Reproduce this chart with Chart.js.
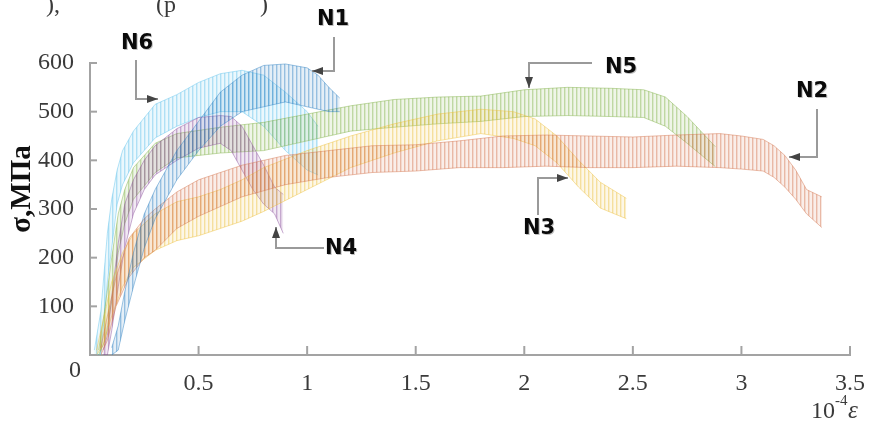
<!DOCTYPE html>
<html>
<head>
<meta charset="utf-8">
<script src="https://cdn.jsdelivr.net/npm/chart.js@4.4.1/dist/chart.umd.min.js"></script>
<style>
  html, body { margin: 0; padding: 0; background: #fff; }
  #wrap { width: 871px; height: 421px; }
</style>
</head>
<body>
<div id="wrap"><canvas id="c" width="871" height="421"></canvas></div>
<script>
/* ── data: strain (10^-4) and serration envelopes (MPa) ── */
const xTicks = [0, 0.5, 1, 1.5, 2, 2.5, 3, 3.5];
const yTicks = [0, 100, 200, 300, 400, 500, 600];

const n1X  = [0.1, 0.13, 0.16, 0.2, 0.25, 0.3, 0.35, 0.4, 0.5, 0.6, 0.7, 0.8, 0.9, 1.0, 1.05, 1.1, 1.15];
const n1Hi = [15, 60, 130, 210, 290, 340, 380, 420, 480, 540, 575, 595, 598, 590, 575, 550, 528];
const n1Lo = [0, 10, 70, 140, 220, 280, 320, 360, 420, 470, 500, 510, 520, 510, 505, 500, 500];

const n2X  = [0.05, 0.08, 0.12, 0.18, 0.25, 0.3, 0.4, 0.5, 0.7, 0.9, 1.1, 1.3, 1.5, 1.7, 1.9, 2.1, 2.3, 2.5, 2.7, 2.9, 3.0, 3.1, 3.15, 3.2, 3.25, 3.3, 3.37];
const n2Hi = [15, 80, 160, 240, 280, 300, 335, 360, 390, 410, 420, 430, 432, 440, 450, 452, 450, 448, 452, 455, 450, 443, 430, 410, 380, 340, 325];
const n2Lo = [0, 30, 100, 160, 200, 215, 260, 285, 325, 350, 365, 375, 378, 385, 385, 388, 385, 385, 388, 385, 382, 378, 365, 345, 320, 290, 262];

const n3X  = [0.03, 0.06, 0.1, 0.15, 0.2, 0.3, 0.4, 0.5, 0.6, 0.7, 0.8, 1.0, 1.2, 1.4, 1.6, 1.8, 1.95, 2.05, 2.15, 2.25, 2.35, 2.47];
const n3Hi = [10, 70, 150, 210, 250, 290, 315, 325, 340, 360, 385, 420, 450, 475, 495, 505, 500, 485, 450, 400, 355, 322];
const n3Lo = [0, 20, 80, 140, 180, 215, 235, 245, 260, 275, 295, 340, 385, 415, 440, 455, 445, 430, 395, 345, 302, 280];

const n4X  = [0.06, 0.08, 0.1, 0.13, 0.16, 0.2, 0.25, 0.3, 0.4, 0.5, 0.6, 0.65, 0.7, 0.75, 0.8, 0.85, 0.89];
const n4Hi = [10, 40, 120, 230, 310, 360, 400, 430, 465, 488, 492, 490, 470, 430, 390, 345, 330];
const n4Lo = [0, 0, 50, 140, 220, 290, 340, 370, 400, 425, 435, 420, 380, 340, 310, 290, 250];

const n5X  = [0.04, 0.07, 0.1, 0.13, 0.16, 0.2, 0.3, 0.4, 0.6, 0.8, 1.0, 1.2, 1.4, 1.6, 1.8, 2.0, 2.2, 2.4, 2.55, 2.65, 2.75, 2.88];
const n5Hi = [10, 100, 200, 290, 340, 385, 435, 455, 468, 478, 495, 512, 525, 530, 532, 545, 550, 548, 545, 530, 490, 428];
const n5Lo = [0, 30, 110, 210, 270, 320, 375, 405, 415, 420, 440, 460, 468, 475, 480, 490, 492, 490, 488, 470, 435, 387];

const n6X  = [0.02, 0.05, 0.08, 0.1, 0.125, 0.15, 0.2, 0.3, 0.4, 0.5, 0.6, 0.7, 0.8, 0.9, 1.0, 1.05];
const n6Hi = [10, 90, 250, 320, 380, 420, 460, 515, 535, 560, 578, 585, 575, 540, 500, 470];
const n6Lo = [0, 0, 150, 220, 310, 350, 395, 446, 470, 488, 500, 500, 470, 420, 380, 370];

const series = [
  { name: 'N1', color: '#2A7FC0', x: n1X, hi: n1Hi, lo: n1Lo },
  { name: 'N2', color: '#D2714A', x: n2X, hi: n2Hi, lo: n2Lo },
  { name: 'N3', color: '#EDBF3A', x: n3X, hi: n3Hi, lo: n3Lo },
  { name: 'N4', color: '#8A4E9C', x: n4X, hi: n4Hi, lo: n4Lo },
  { name: 'N5', color: '#7FB045', x: n5X, hi: n5Hi, lo: n5Lo },
  { name: 'N6', color: '#5EC2EC', x: n6X, hi: n6Hi, lo: n6Lo },
];

/* label + arrow callouts: text centre, polyline, arrow tip last */
const callouts = [
  { t: 'N6', tx: 137, ty: 44,  path: [[136, 60], [136, 99], [158, 99]] },
  { t: 'N1', tx: 333, ty: 20,  path: [[334, 37], [334, 71], [312, 71]] },
  { t: 'N5', tx: 621, ty: 68,  path: [[592, 63], [529, 63], [529, 88]] },
  { t: 'N2', tx: 812, ty: 92,  path: [[817, 109], [817, 157], [789, 157]] },
  { t: 'N3', tx: 539, ty: 229, path: [[538, 215], [538, 178], [568, 178]] },
  { t: 'N4', tx: 341, ty: 249, path: [[324, 248], [276, 248], [276, 227]] },
];

const ctx = document.getElementById('c').getContext('2d');

function rgba(hex, a) {
  const n = parseInt(hex.slice(1), 16);
  return `rgba(${n >> 16},${(n >> 8) & 255},${n & 255},${a})`;
}

function stripes(hex) {
  const tile = document.createElement('canvas');
  tile.width = 4; tile.height = 4;
  const g = tile.getContext('2d');
  g.fillStyle = rgba(hex, 0.12);
  g.fillRect(0, 0, 4, 4);
  g.fillStyle = rgba(hex, 0.42);
  g.fillRect(0, 0, 1.4, 4);
  return ctx.createPattern(tile, 'repeat');
}

const datasets = [];
series.forEach(s => {
  datasets.push({
    label: s.name + ' lo',
    data: s.x.map((x, i) => ({ x, y: s.lo[i] })),
    borderColor: rgba(s.color, 0.45),
    borderWidth: 1,
    pointRadius: 0,
    fill: false,
  });
  datasets.push({
    label: s.name + ' hi',
    data: s.x.map((x, i) => ({ x, y: s.hi[i] })),
    borderColor: rgba(s.color, 0.45),
    borderWidth: 1,
    pointRadius: 0,
    fill: '-1',
    backgroundColor: stripes(s.color),
  });
});

const AXIS = '#a3a3a3';
const TEXT = '#3a3a3a';
const SERIF = "'Liberation Serif', 'DejaVu Serif', serif";

const decor = {
  id: 'decor',
  afterDraw(chart) {
    const g = chart.ctx;
    const xs = chart.scales.x, ys = chart.scales.y;
    const area = chart.chartArea;
    g.save();
    // inward ticks
    g.strokeStyle = AXIS; g.lineWidth = 2;
    xTicks.forEach(v => {
      const p = xs.getPixelForValue(v);
      g.beginPath(); g.moveTo(p, area.bottom); g.lineTo(p, area.bottom - 9); g.stroke();
    });
    yTicks.forEach(v => {
      const p = ys.getPixelForValue(v);
      g.beginPath(); g.moveTo(area.left, p); g.lineTo(area.left + 7, p); g.stroke();
    });

    // shared zero
    g.fillStyle = TEXT;
    g.font = '24px ' + SERIF;
    g.textAlign = 'center'; g.textBaseline = 'middle';
    g.fillText('0', 75, 371);

    // y title
    g.save();
    g.translate(23, 189);
    g.rotate(-Math.PI / 2);
    g.font = 'bold 29px ' + SERIF;
    g.fillStyle = '#111';
    g.fillText('σ,МПа', 0, 0);
    g.restore();

    // x title 10^-4 ε
    g.textAlign = 'left'; g.textBaseline = 'alphabetic';
    g.fillStyle = TEXT;
    g.font = '24px ' + SERIF;
    g.fillText('10', 811, 418);
    g.font = '15px ' + SERIF;
    g.fillText('-4', 835, 405);
    g.font = 'italic 25px ' + SERIF;
    g.fillText('ε', 848, 418);

    // callouts
    callouts.forEach(c => {
      g.strokeStyle = '#9a9a9a'; g.lineWidth = 2;
      g.beginPath();
      c.path.forEach(([x, y], i) => i ? g.lineTo(x, y) : g.moveTo(x, y));
      g.stroke();
      const [x1, y1] = c.path[c.path.length - 2];
      const [x2, y2] = c.path[c.path.length - 1];
      const a = Math.atan2(y2 - y1, x2 - x1);
      g.fillStyle = '#444';
      g.beginPath();
      g.moveTo(x2, y2);
      g.lineTo(x2 - 11 * Math.cos(a) + 4 * Math.sin(a), y2 - 11 * Math.sin(a) - 4 * Math.cos(a));
      g.lineTo(x2 - 11 * Math.cos(a) - 4 * Math.sin(a), y2 - 11 * Math.sin(a) + 4 * Math.cos(a));
      g.closePath(); g.fill();

      g.font = "bold 21px 'DejaVu Sans', sans-serif";
      g.textAlign = 'center'; g.textBaseline = 'middle';
      g.fillStyle = 'rgba(0,0,0,0.25)';
      g.fillText(c.t, c.tx + 1, c.ty + 1);
      g.fillStyle = '#0a0a0a';
      g.fillText(c.t, c.tx, c.ty);
    });

    // cropped caption line from the page above
    g.font = '24px ' + SERIF;
    g.fillStyle = TEXT;
    g.textAlign = 'left';
    g.fillText('),', 46, 6);
    g.fillText('(p', 156, 6);
    g.fillText(')', 260, 6);
    g.restore();
  },
};

new Chart(ctx, {
  type: 'line',
  data: { datasets },
  options: {
    responsive: false,
    animation: false,
    events: [],
    layout: { padding: { top: 63, right: 17, left: 0, bottom: 0 } },
    plugins: { legend: { display: false }, tooltip: { enabled: false } },
    elements: { line: { tension: 0 } },
    scales: {
      x: {
        type: 'linear', min: 0, max: 3.5,
        afterFit: s => { s.height = 66; },
        afterBuildTicks: s => { s.ticks = xTicks.map(v => ({ value: v })); },
        grid: { display: false },
        border: { color: AXIS, width: 2 },
        ticks: {
          padding: 6, color: TEXT, maxRotation: 0,
          font: { family: SERIF, size: 24 },
          callback: v => v === 0 ? '' : String(v),
        },
      },
      y: {
        type: 'linear', min: 0, max: 600,
        afterFit: s => { s.width = 90; },
        afterBuildTicks: s => { s.ticks = yTicks.map(v => ({ value: v })); },
        grid: { display: false },
        border: { color: AXIS, width: 2 },
        ticks: {
          padding: 8, color: TEXT,
          font: { family: SERIF, size: 24 },
          callback: v => v === 0 ? '' : String(v),
        },
      },
    },
  },
  plugins: [decor],
});
</script>
</body>
</html>
